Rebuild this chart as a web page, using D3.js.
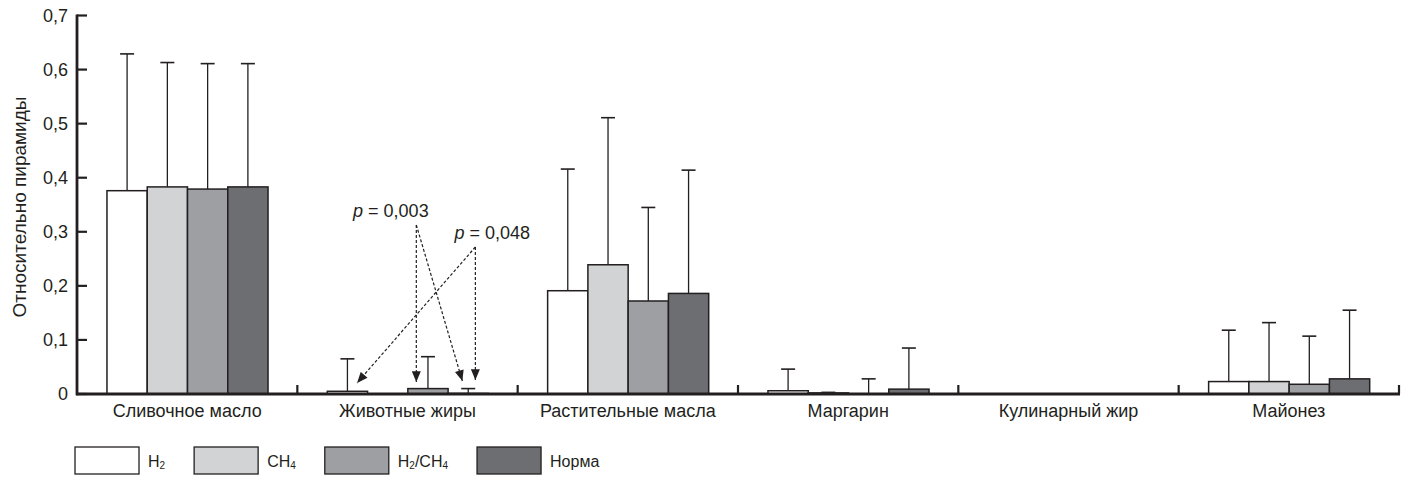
<!DOCTYPE html>
<html>
<head>
<meta charset="utf-8">
<script src="https://cdn.jsdelivr.net/npm/d3@7/dist/d3.min.js"></script>
<style>
  html, body { margin: 0; padding: 0; background: #fff; }
  svg { display: block; font-family: "Liberation Sans", Arial, Helvetica, sans-serif; }
</style>
</head>
<body>
<svg id="chart" width="1407" height="485"></svg>
<script>
// ---- data ----
const categories = ["Сливочное масло", "Животные жиры", "Растительные масла", "Маргарин", "Кулинарный жир", "Майонез"];
const seriesNames = ["H2", "CH4", "H2/CH4", "Норма"];
const valuesH2     = [0.376, 0.005, 0.191, 0.006, 0, 0.023];
const valuesCH4    = [0.383, 0,     0.239, 0.002, 0, 0.023];
const valuesH2CH4  = [0.379, 0.010, 0.172, 0,     0, 0.018];
const valuesNorma  = [0.383, 0.001, 0.186, 0.009, 0, 0.028];
const errH2        = [0.629, 0.065, 0.416, 0.046, 0, 0.118];
const errCH4       = [0.613, 0,     0.511, 0.003, 0, 0.132];
const errH2CH4     = [0.611, 0.069, 0.345, 0.028, 0, 0.107];
const errNorma     = [0.611, 0.010, 0.414, 0.085, 0, 0.155];
const yTicks = [0, 0.1, 0.2, 0.3, 0.4, 0.5, 0.6, 0.7];
const yTickLabels = ["0", "0,1", "0,2", "0,3", "0,4", "0,5", "0,6", "0,7"];
const yTitle = "Относительно пирамиды";
const pLabels = ["0,003", "0,048"];

// ---- layout ----
const svg = d3.select("#chart");
const colors = ["#ffffff", "#d1d3d4", "#9d9fa2", "#6d6e71"];
const stroke = "#231f20";

const y = d3.scaleLinear().domain([0, 0.7]).range([394, 15.5]);
const x = d3.scaleBand().domain(d3.range(categories.length)).range([77, 1399]).padding(0);
const bw = x.bandwidth();
const xs = d3.scaleBand().domain(d3.range(seriesNames.length)).range([bw * 0.136, bw * 0.867]).padding(0);

const values = [valuesH2, valuesCH4, valuesH2CH4, valuesNorma];
const errs = [errH2, errCH4, errH2CH4, errNorma];

const rows = [];
categories.forEach((c, ci) => {
  seriesNames.forEach((s, si) => {
    rows.push({ ci, si, v: values[si][ci], e: errs[si][ci] });
  });
});

// error bars (behind bars)
const gErr = svg.append("g");
rows.filter(d => d.e > d.v).forEach(d => {
  const cx = x(d.ci) + xs(d.si) + xs.bandwidth() / 2;
  gErr.append("line").attr("x1", cx).attr("x2", cx).attr("y1", y(d.v)).attr("y2", y(d.e))
    .attr("stroke", stroke).attr("stroke-width", 1.3);
  gErr.append("line").attr("x1", cx - 7).attr("x2", cx + 7).attr("y1", y(d.e)).attr("y2", y(d.e))
    .attr("stroke", stroke).attr("stroke-width", 1.6);
});

// bars
svg.append("g").selectAll("rect").data(rows.filter(d => d.v > 0)).join("rect")
  .attr("x", d => x(d.ci) + xs(d.si))
  .attr("y", d => y(d.v))
  .attr("width", xs.bandwidth())
  .attr("height", d => y(0) - y(d.v))
  .attr("fill", d => colors[d.si])
  .attr("stroke", stroke)
  .attr("stroke-width", 1.5);

// y axis
const yAxis = svg.append("g");
yAxis.append("line").attr("x1", 77).attr("x2", 77).attr("y1", y(0.7) - 1).attr("y2", y(0) + 1.3)
  .attr("stroke", stroke).attr("stroke-width", 2.8);
yTicks.forEach((t, i) => {
  yAxis.append("line").attr("x1", 77).attr("x2", 87).attr("y1", y(t)).attr("y2", y(t))
    .attr("stroke", stroke).attr("stroke-width", 2.2);
  yAxis.append("text").attr("x", 68).attr("y", y(t)).attr("dy", "0.36em")
    .attr("text-anchor", "end").attr("font-size", 18).attr("fill", stroke)
    .text(yTickLabels[i]);
});
svg.append("text").attr("transform", "translate(26,207) rotate(-90)")
  .attr("text-anchor", "middle").attr("font-size", 19).attr("fill", stroke).text(yTitle);

// x axis
const xAxis = svg.append("g");
xAxis.append("line").attr("x1", 76).attr("x2", 1400).attr("y1", y(0)).attr("y2", y(0))
  .attr("stroke", stroke).attr("stroke-width", 2.8);
d3.range(1, categories.length + 1).forEach(i => {
  const xx = i < categories.length ? x(i) : x.range()[1];
  xAxis.append("line").attr("x1", xx).attr("x2", xx).attr("y1", y(0)).attr("y2", y(0) - 9)
    .attr("stroke", stroke).attr("stroke-width", 2.2);
});
categories.forEach((c, i) => {
  xAxis.append("text").attr("x", x(i) + bw / 2).attr("y", y(0) + 23)
    .attr("text-anchor", "middle").attr("font-size", 18).attr("fill", stroke).text(c);
});

// annotations (data units: category index, fraction of band, value)
const defs = svg.append("defs");
defs.append("marker").attr("id", "arr").attr("viewBox", "0 0 12 10").attr("refX", 12).attr("refY", 5)
  .attr("markerWidth", 12).attr("markerHeight", 9).attr("markerUnits", "userSpaceOnUse")
  .attr("orient", "auto")
  .append("path").attr("d", "M0,0 L12,5 L0,10 Z").attr("fill", stroke);

const ann = [
  { text: pLabels[0], tx: 0.253, tv: 0.327, from: [0.540, 0.3126], to: [[0.540, 0.022], [0.749, 0.024]] },
  { text: pLabels[1], tx: 0.713, tv: 0.287, from: [0.808, 0.2719], to: [[0.808, 0.0259], [0.271, 0.0203]] }
];
const ax = f => x(1) + f * bw;
const gAnn = svg.append("g");
ann.forEach(a => {
  a.to.forEach(t => {
    gAnn.append("line").attr("x1", ax(a.from[0])).attr("y1", y(a.from[1]))
      .attr("x2", ax(t[0])).attr("y2", y(t[1]))
      .attr("stroke", stroke).attr("stroke-width", 1.2).attr("stroke-dasharray", "3,2")
      .attr("marker-end", "url(#arr)");
  });
  const t = gAnn.append("text").attr("x", ax(a.tx)).attr("y", y(a.tv))
    .attr("font-size", 18).attr("fill", stroke);
  t.append("tspan").attr("font-style", "italic").text("p");
  t.append("tspan").text(" = " + a.text);
});

// legend
const legend = svg.append("g");
let lx = 75;
const legendParts = [
  [["H", false], ["2", true]],
  [["CH", false], ["4", true]],
  [["H", false], ["2", true], ["/CH", false], ["4", true]],
  [["Норма", false]]
];
legendParts.forEach((parts, i) => {
  legend.append("rect").attr("x", lx).attr("y", 447).attr("width", 64).attr("height", 27)
    .attr("fill", colors[i]).attr("stroke", stroke).attr("stroke-width", 1.3);
  const t = legend.append("text").attr("x", lx + 73).attr("y", 467)
    .attr("font-size", 16).attr("fill", stroke);
  parts.forEach(p => {
    const ts = t.append("tspan").text(p[0]);
    if (p[1]) ts.attr("font-size", 10).attr("dy", 2);
    else ts.attr("dy", t.selectAll("tspan").size() > 1 ? -2 : 0);
  });
  lx = lx + 73 + t.node().getComputedTextLength() + 29;
});
</script>
</body>
</html>
